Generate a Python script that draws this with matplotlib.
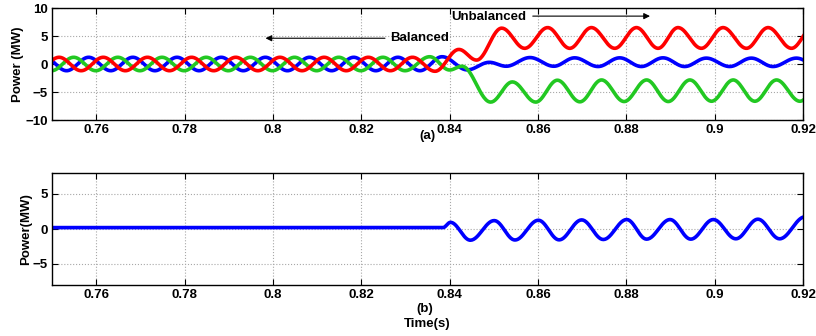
import numpy as np
import matplotlib
matplotlib.use('Agg')
import matplotlib.pyplot as plt

plt.rcParams['font.family'] = 'Liberation Sans'
plt.rcParams['font.weight'] = 'bold'
plt.rcParams['font.size'] = 9.5

# peaks / troughs: time (s), power (MW)
red_t = [0.7466, 0.7516, 0.7566, 0.7616, 0.7666, 0.7716, 0.7766, 0.7816, 0.7866,
         0.7916, 0.7966, 0.8016, 0.8066, 0.8116, 0.8166, 0.8216, 0.8266, 0.8316,
         0.8367, 0.8421, 0.8461, 0.8518, 0.8570, 0.8622, 0.8672, 0.8721, 0.8774,
         0.8823, 0.8872, 0.8917, 0.8970, 0.9019, 0.9072, 0.9121, 0.9174, 0.9222]
red_v = [-1.2, 1.2, -1.2, 1.2, -1.2, 1.2, -1.2, 1.2, -1.2,
         1.2, -1.2, 1.2, -1.2, 1.2, -1.2, 1.2, -1.2, 1.2,
         -1.3, 2.6, 0.7, 6.4, 2.8, 6.5, 2.8, 6.5, 2.8,
         6.5, 2.8, 6.5, 2.8, 6.5, 2.8, 6.5, 2.8, 6.5]

green_t = [0.7449, 0.7499, 0.7549, 0.7599, 0.7649, 0.7699, 0.7749, 0.7799, 0.7849,
           0.7899, 0.7949, 0.7999, 0.8049, 0.8099, 0.8149, 0.8199, 0.8249, 0.8299,
           0.8355, 0.8400, 0.8428, 0.8493, 0.8542, 0.8595, 0.8644, 0.8695, 0.8744,
           0.8795, 0.8846, 0.8895, 0.8944, 0.8993, 0.9042, 0.9091, 0.9140, 0.9193, 0.9243]
green_v = [1.2, -1.2, 1.2, -1.2, 1.2, -1.2, 1.2, -1.2, 1.2,
           -1.2, 1.2, -1.2, 1.2, -1.2, 1.2, -1.2, 1.2, -1.2,
           1.3, -1.07, -0.4, -6.8, -3.2, -6.8, -2.9, -6.75, -2.85,
           -6.7, -2.85, -6.7, -2.85, -6.65, -2.85, -6.65, -2.85, -6.65, -2.85]

blue_t = [0.7433, 0.7483, 0.7533, 0.7583, 0.7633, 0.7683, 0.7733, 0.7783, 0.7833,
          0.7883, 0.7933, 0.7983, 0.8033, 0.8083, 0.8133, 0.8183, 0.8233, 0.8283, 0.8333,
          0.8383, 0.8440, 0.8490, 0.8528, 0.8582, 0.8636, 0.8683, 0.8736, 0.8785,
          0.8834, 0.8883, 0.8932, 0.8981, 0.9034, 0.9083, 0.9132, 0.9185, 0.9235]
blue_v = [-1.2, 1.2, -1.2, 1.2, -1.2, 1.2, -1.2, 1.2, -1.2,
          1.2, -1.2, 1.2, -1.2, 1.2, -1.2, 1.2, -1.2, 1.2, -1.2,
          1.3, -1.05, 0.3, -0.4, 1.15, -0.4, 1.1, -0.45, 1.1,
          -0.45, 1.1, -0.45, 1.05, -0.45, 1.05, -0.45, 1.05, -0.45]

total_t = [0.745, 0.8385, 0.8402, 0.8447, 0.8501, 0.8548, 0.8601, 0.8648, 0.8699, 0.8748,
           0.8801, 0.8846, 0.8899, 0.8946, 0.8997, 0.9048, 0.9098, 0.9147, 0.9205]
total_v = [0.2, 0.2, 0.95, -1.6, 1.2, -1.57, 1.25, -1.55, 1.3, -1.5,
           1.35, -1.45, 1.35, -1.45, 1.35, -1.4, 1.4, -1.4, 1.75]

xticks = [0.76, 0.78, 0.8, 0.82, 0.84, 0.86, 0.88, 0.9, 0.92]
xticklabels = ['0.76', '0.78', '0.8', '0.82', '0.84', '0.86', '0.88', '0.9', '0.92']


def wave(tk, vk, n=30):
    # half-cosine stroke between consecutive extrema
    ts, vs = [], []
    for i in range(len(tk) - 1):
        s = np.linspace(0, 1, n, endpoint=False)
        ts.append(tk[i] + (tk[i + 1] - tk[i]) * s)
        vs.append(vk[i] + (vk[i + 1] - vk[i]) * (1 - np.cos(np.pi * s)) / 2)
    ts.append([tk[-1]])
    vs.append([vk[-1]])
    return np.concatenate(ts), np.concatenate(vs)


def style(ax, ylim, yticks):
    ax.set_xlim(0.75, 0.92)
    ax.set_ylim(*ylim)
    ax.set_xticks(xticks)
    ax.set_xticklabels(xticklabels)
    ax.set_yticks(yticks)
    ax.grid(True, linestyle=':', color='#a8a8a8', linewidth=0.8)
    ax.tick_params(direction='in', top=True, right=True, length=4, width=0.8, pad=3)
    for sp in ax.spines.values():
        sp.set_linewidth(1.0)


fig = plt.figure(figsize=(8.16, 3.36), dpi=100)
ax1 = fig.add_axes([52 / 816, 1 - 120 / 336, 751 / 816, 112 / 336])
ax2 = fig.add_axes([52 / 816, 1 - 285 / 336, 751 / 816, 112 / 336])

lw = 2.6
ax1.plot(*wave(blue_t, blue_v), color='#0000ff', lw=lw)
ax1.plot(*wave(green_t, green_v), color='#22c822', lw=lw)
ax1.plot(*wave(red_t, red_v), color='#ff0000', lw=lw)
style(ax1, (-10, 10), [-10, -5, 0, 5, 10])

arrow = dict(arrowstyle='-|>', lw=0.8, color='k', mutation_scale=9)
ax1.annotate('', xy=(0.7977, 4.6), xytext=(0.8260, 4.6), arrowprops=arrow)
ax1.text(0.8265, 4.6, 'Balanced', ha='left', va='center')
ax1.annotate('', xy=(0.8860, 8.55), xytext=(0.8582, 8.55), arrowprops=arrow)
ax1.text(0.8404, 8.45, 'Unbalanced', ha='left', va='center')

ax2.plot(*wave(total_t, total_v), color='#0000ff', lw=lw)
style(ax2, (-8, 8), [-5, 0, 5])

fig.text(18 / 816, 1 - 64 / 336, 'Power (MW)', rotation=90, ha='center', va='center')
fig.text(26 / 816, 1 - 229 / 336, 'Power(MW)', rotation=90, ha='center', va='center')
fig.text(427 / 816, 1 - 136 / 336, '(a)', ha='center', va='center')
fig.text(425 / 816, 1 - 309 / 336, '(b)', ha='center', va='center')
fig.text(427 / 816, 1 - 324 / 336, 'Time(s)', ha='center', va='center')

fig.savefig('out.png', dpi=100)
